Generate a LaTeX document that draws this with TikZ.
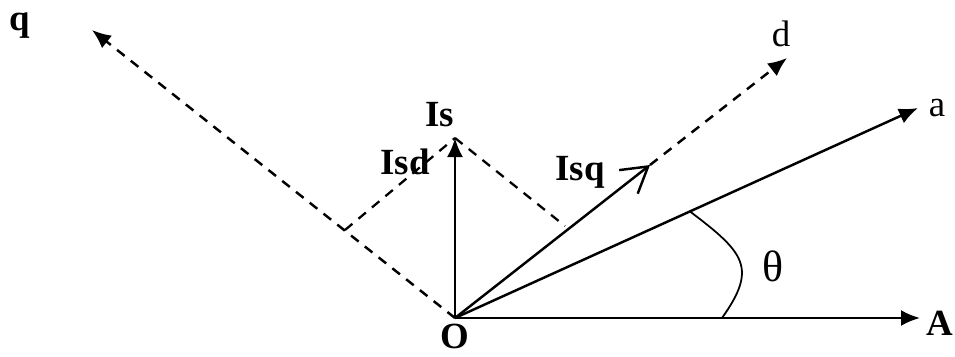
\documentclass[tikz,border=0pt]{standalone}
\usepackage{fontspec}
\setmainfont{Liberation Serif}
\usetikzlibrary{arrows.meta}

\begin{document}
\begin{tikzpicture}[x=1cm,y=1cm,
  vec/.style={line width=1.4pt,-{Latex[length=3.8mm,width=3.2mm]}},
  dvec/.style={vec,dash pattern=on 5.5pt off 4.5pt},
  proj/.style={line width=1.3pt,dash pattern=on 5.5pt off 4.5pt},
  lbl/.style={inner sep=0pt,font=\fontsize{21}{24}\selectfont\bfseries},
  sym/.style={inner sep=0pt,font=\fontsize{21}{24}\selectfont}]
\useasboundingbox (-9.1,-0.76) rectangle (10.0,6.36);

% axes and vector ends
\coordinate (O) at (0,0);
\coordinate (A) at (9.3,0);
\coordinate (a) at (9.26,4.2);
\coordinate (d) at (6.64,5.2);
\coordinate (q) at (-7.26,5.76);
\coordinate (Is) at (0,3.6);
\coordinate (Isq) at (3.9,3.06);
\coordinate (qfoot) at (-2.2,1.76);
\coordinate (dfoot) at (2.2,1.84);
\coordinate (th1) at (4.7,2.13);
\coordinate (th2) at (5.34,0);

% fixed frame A, rotor frame a
\draw[vec] (O) -- (A);
\draw[vec] (O) -- (a);

% d-q frame
\draw[dvec] (O) -- (q);
\draw[line width=1.4pt,-{Straight Barb[length=5mm,width=6mm]}] (O) -- (Isq);
\draw[dvec] (Isq) -- (d);

% stator current and its projections
\draw[vec] (O) -- (Is);
\draw[proj] (qfoot) -- (Is);
\draw[proj] (Is) -- (dfoot);

% angle
\draw[line width=1pt] (th1) .. controls (5.8,1.3) and (6.05,1.0) .. (th2);

% labels
\node[lbl] (lq) at (-8.7,5.84) {q};
\node[lbl] (lIs) at (-0.3,4.06) {Is};
\node[lbl] (lIsd) at (-1.0,3.12) {Isd};
\node[lbl] (lIsq) at (2.5,2.92) {Isq};
\node[sym] (ld) at (6.52,5.68) {d};
\node[sym] (la) at (9.64,4.2) {a};
\node[lbl] (lA) at (9.7,-0.1) {A};
\node[lbl] (lO) at (0,-0.36) {O};
\node[inner sep=0pt,font=\fontsize{25}{28}\selectfont] (lth) at (6.36,1.04) {θ};
\end{tikzpicture}
\end{document}
